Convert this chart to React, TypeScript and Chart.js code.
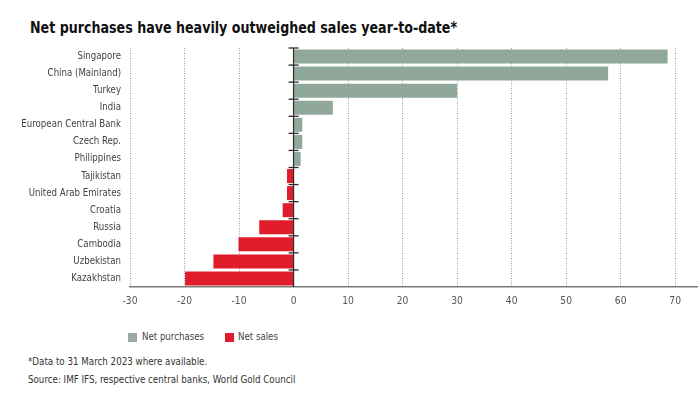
import React, { useEffect, useRef } from "react";
import { Chart, registerables } from "chart.js";

Chart.register(...registerables);

const categories = [
  "Singapore",
  "China (Mainland)",
  "Turkey",
  "India",
  "European Central Bank",
  "Czech Rep.",
  "Philippines",
  "Tajikistan",
  "United Arab Emirates",
  "Croatia",
  "Russia",
  "Cambodia",
  "Uzbekistan",
  "Kazakhstan",
];
const netPurchases = [68.6, 57.7, 30.0, 7.2, 1.6, 1.6, 1.3, null, null, null, null, null, null, null];
const netSales = [null, null, null, null, null, null, null, -1.2, -1.2, -2.0, -6.3, -10.1, -14.7, -19.9];
const xTicks = [-30, -20, -10, 0, 10, 20, 30, 40, 50, 60, 70];
const seriesLabels = ["Net purchases", "Net sales"];

const GREEN = "#8fa89a";
const RED = "#e11d2c";
const FONT = '"DejaVu Sans Condensed", "Liberation Sans", Arial, sans-serif';

const zeroAxisPlugin = {
  id: "zeroAxis",
  afterDatasetsDraw(chart: any) {
    const { ctx, chartArea, scales } = chart;
    const x = scales.x;
    const y = scales.y;
    const x0 = x.getPixelForValue(0);
    const step = y.getPixelForValue(1) - y.getPixelForValue(0);
    const top = y.getPixelForValue(0) - step / 2;
    ctx.save();
    ctx.strokeStyle = "#2a2a2a";
    ctx.lineWidth = 1.2;
    ctx.beginPath();
    ctx.moveTo(x0, chartArea.top);
    ctx.lineTo(x0, chartArea.bottom);
    ctx.stroke();
    ctx.lineWidth = 1.3;
    for (let i = 0; i < categories.length; i++) {
      const yy = top + i * step;
      ctx.beginPath();
      ctx.moveTo(x0 - 5, yy);
      ctx.lineTo(x0 + 5, yy);
      ctx.stroke();
    }
    ctx.restore();
  },
};

export default function App() {
  const ref = useRef<HTMLCanvasElement | null>(null);

  useEffect(() => {
    if (!ref.current) return;
    const chart = new Chart(ref.current, {
      type: "bar",
      data: {
        labels: categories,
        datasets: [
          {
            label: seriesLabels[0],
            data: netPurchases as any,
            backgroundColor: GREEN,
            grouped: false,
            barPercentage: 0.82,
            categoryPercentage: 1,
          } as any,
          {
            label: seriesLabels[1],
            data: netSales as any,
            backgroundColor: RED,
            grouped: false,
            barPercentage: 0.82,
            categoryPercentage: 1,
          } as any,
        ],
      },
      options: {
        indexAxis: "y",
        responsive: false,
        animation: false,
        layout: { padding: { top: 8, right: 3, left: 0, bottom: 0 } },
        plugins: {
          legend: { display: false },
          title: { display: false },
          tooltip: { enabled: false },
        },
        scales: {
          x: {
            type: "linear",
            min: -30,
            max: 74,
            afterBuildTicks: (s: any) => {
              s.ticks = xTicks.map((v) => ({ value: v }));
            },
            afterFit: (s: any) => {
              s.height = 23;
              s.paddingLeft = 0;
              s.paddingRight = 0;
            },
            grid: {
              color: (c: any) => (c.tick && c.tick.value === 0 ? "rgba(0,0,0,0)" : "#9a9a9a"),
              lineWidth: 1,
              drawTicks: false,
            },
            border: { display: true, color: "#7a7a7a", width: 1.5, dash: [1, 1.5] },
            ticks: { color: "#555", font: { family: FONT, size: 10.2 }, padding: 8 },
          },
          y: {
            type: "category",
            afterFit: (s: any) => {
              s.width = 130;
              s.paddingTop = 0;
              s.paddingBottom = 0;
            },
            grid: { display: false, drawTicks: false },
            border: { display: false },
            ticks: { color: "#444", font: { family: FONT, size: 9.6 }, padding: 9, autoSkip: false },
          },
        },
      } as any,
      plugins: [zeroAxisPlugin],
    });
    return () => chart.destroy();
  }, []);

  return (
    <div
      style={{
        position: "absolute",
        left: 0,
        top: 0,
        width: 700,
        height: 394,
        background: "#fff",
        fontFamily: FONT,
        overflow: "hidden",
      }}
    >
      <div
        style={{
          position: "absolute",
          left: 30,
          top: 18,
          fontSize: 16,
          lineHeight: "20px",
          fontWeight: "bold",
          color: "#111",
          whiteSpace: "nowrap",
          transform: "scaleX(0.88)",
          transformOrigin: "left center",
        }}
      >
        Net purchases have heavily outweighed sales year-to-date*
      </div>
      <div style={{ position: "absolute", left: 0, top: 40, width: 700, height: 270 }}>
        <canvas ref={ref} width={700} height={270} style={{ display: "block" }} />
      </div>
      <div
        style={{
          position: "absolute",
          left: 128,
          top: 330,
          display: "flex",
          alignItems: "center",
          fontSize: 9.6,
          lineHeight: "14px",
          color: "#444",
        }}
      >
        <span style={{ display: "inline-block", width: 9, height: 9, background: "#9aaba3", marginRight: 5 }} />
        <span style={{ marginRight: 21 }}>{seriesLabels[0]}</span>
        <span style={{ display: "inline-block", width: 9, height: 9, background: RED, marginRight: 4 }} />
        <span>{seriesLabels[1]}</span>
      </div>
      <div
        style={{
          position: "absolute",
          left: 28,
          top: 355,
          fontSize: 9.7,
          lineHeight: "14px",
          color: "#333",
          whiteSpace: "nowrap",
        }}
      >
        *Data to 31 March 2023 where available.
      </div>
      <div
        style={{
          position: "absolute",
          left: 28,
          top: 373,
          fontSize: 9.7,
          lineHeight: "14px",
          color: "#333",
          whiteSpace: "nowrap",
        }}
      >
        Source: IMF IFS, respective central banks, World Gold Council
      </div>
    </div>
  );
}
